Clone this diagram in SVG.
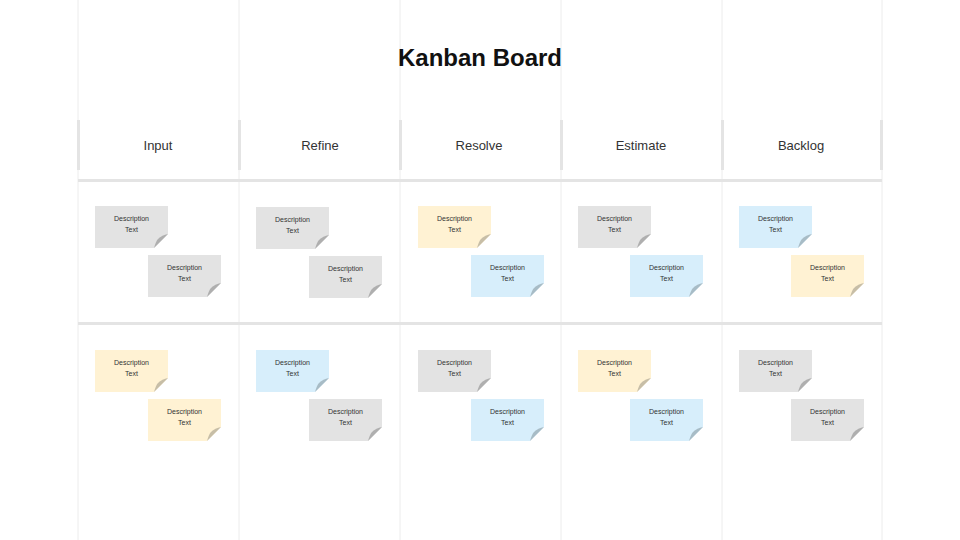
<svg xmlns="http://www.w3.org/2000/svg" width="960" height="540" viewBox="0 0 960 540">
<style>
.lane{stroke:#ececec;stroke-width:1;fill:none}
.bar{fill:#e4e4e4}
.hline{stroke:#e4e4e4;stroke-width:3}
.title{font-family:"Liberation Sans",Arial,sans-serif;font-size:24px;font-weight:bold;fill:#111;text-anchor:middle}
.head{font-family:"Liberation Sans",Arial,sans-serif;font-size:13px;fill:#333;text-anchor:middle}
.nt{font-family:"Liberation Sans",Arial,sans-serif;font-size:7px;fill:#333;text-anchor:middle}
.gray{fill:#e3e3e3;color:#afafaf}
.yel{fill:#fff2d3;color:#c7bea7}
.blue{fill:#d7eefb;color:#a8bcc6}
</style>
<defs>
<g id="note">
<polygon points="0,0 73,0 73,28 59,42 0,42"/>
<path fill="currentColor" d="M73,28 L59,42 Q61,35 63,33 Q67,29 73,28 Z"/>
<text class="nt" x="36.5" y="15">Description</text>
<text class="nt" x="36.5" y="26">Text</text>
</g>
</defs>
<rect width="960" height="540" fill="#fff"/>
<g id="lanes">
<line class="lane" x1="78" y1="0" x2="78" y2="540"/>
<line class="lane" x1="239" y1="0" x2="239" y2="540"/>
<line class="lane" x1="400" y1="0" x2="400" y2="540"/>
<line class="lane" x1="561" y1="0" x2="561" y2="540"/>
<line class="lane" x1="722" y1="0" x2="722" y2="540"/>
<line class="lane" x1="882" y1="0" x2="882" y2="540"/>
<rect class="bar" x="77" y="120" width="3" height="50"/>
<rect class="bar" x="238" y="120" width="3" height="50"/>
<rect class="bar" x="399" y="120" width="3" height="50"/>
<rect class="bar" x="560" y="120" width="3" height="50"/>
<rect class="bar" x="721" y="120" width="3" height="50"/>
<rect class="bar" x="880" y="120" width="3" height="50"/>
<line class="hline" x1="78" y1="180.5" x2="882" y2="180.5"/>
<line class="hline" x1="78" y1="323.5" x2="882" y2="323.5"/>
</g>
<text id="title" class="title" x="480" y="66">Kanban Board</text>
<g id="headers">
<text class="head" x="158" y="150">Input</text>
<text class="head" x="320" y="150">Refine</text>
<text class="head" x="479" y="150">Resolve</text>
<text class="head" x="641" y="150">Estimate</text>
<text class="head" x="801" y="150">Backlog</text>
</g>
<g id="note-input-1" class="gray"><use href="#note" x="95" y="206"/></g>
<g id="note-input-2" class="gray"><use href="#note" x="148" y="255"/></g>
<g id="note-refine-1" class="gray"><use href="#note" x="256" y="207"/></g>
<g id="note-refine-2" class="gray"><use href="#note" x="309" y="256"/></g>
<g id="note-resolve-1" class="yel"><use href="#note" x="418" y="206"/></g>
<g id="note-resolve-2" class="blue"><use href="#note" x="471" y="255"/></g>
<g id="note-estimate-1" class="gray"><use href="#note" x="578" y="206"/></g>
<g id="note-estimate-2" class="blue"><use href="#note" x="630" y="255"/></g>
<g id="note-backlog-1" class="blue"><use href="#note" x="739" y="206"/></g>
<g id="note-backlog-2" class="yel"><use href="#note" x="791" y="255"/></g>
<g id="note-input-3" class="yel"><use href="#note" x="95" y="350"/></g>
<g id="note-input-4" class="yel"><use href="#note" x="148" y="399"/></g>
<g id="note-refine-3" class="blue"><use href="#note" x="256" y="350"/></g>
<g id="note-refine-4" class="gray"><use href="#note" x="309" y="399"/></g>
<g id="note-resolve-3" class="gray"><use href="#note" x="418" y="350"/></g>
<g id="note-resolve-4" class="blue"><use href="#note" x="471" y="399"/></g>
<g id="note-estimate-3" class="yel"><use href="#note" x="578" y="350"/></g>
<g id="note-estimate-4" class="blue"><use href="#note" x="630" y="399"/></g>
<g id="note-backlog-3" class="gray"><use href="#note" x="739" y="350"/></g>
<g id="note-backlog-4" class="gray"><use href="#note" x="791" y="399"/></g>
<g id="connectors"/>
</svg>
